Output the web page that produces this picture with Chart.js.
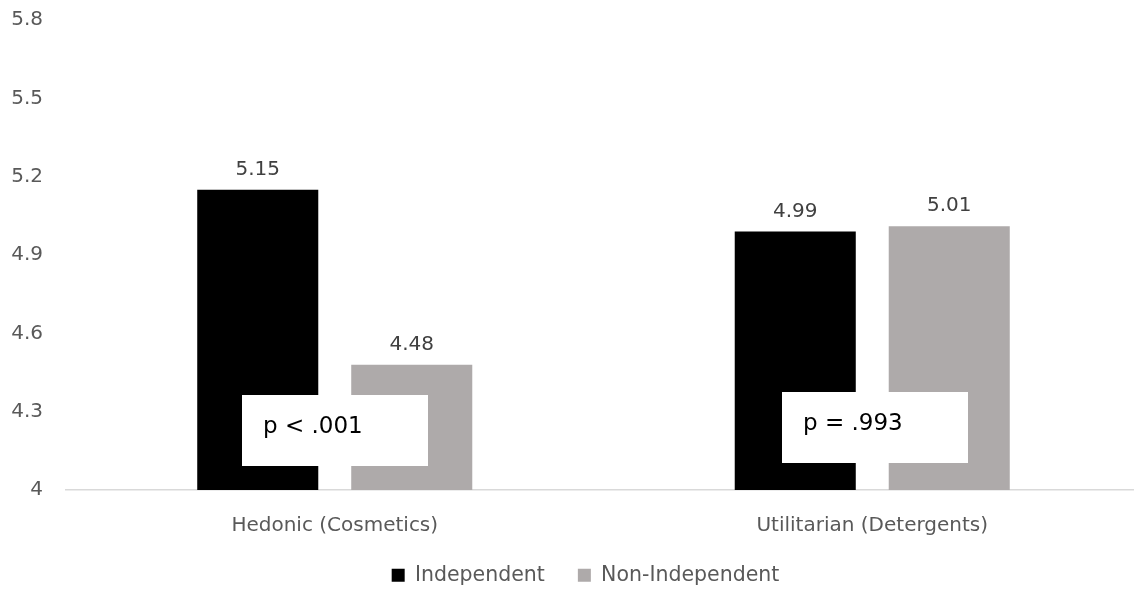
<!DOCTYPE html>
<html>
<head>
<meta charset="utf-8">
<script src="https://cdn.jsdelivr.net/npm/chart.js@4/dist/chart.umd.min.js"></script>
<style>
  html, body { margin: 0; padding: 0; background: #ffffff; overflow: hidden; width: 1134px; height: 592px; }
  #wrap { width: 1141px; height: 592px; position: relative; }
</style>
</head>
<body>
<div id="wrap"><canvas id="chart" width="1141" height="592"></canvas></div>
<script>
// Mean ratings by product type and self-construal condition
const categories = ['Hedonic (Cosmetics)', 'Utilitarian (Detergents)'];
const independent = [5.15, 4.99];
const nonIndependent = [4.48, 5.01];
const yTicks = [4, 4.3, 4.6, 4.9, 5.2, 5.5, 5.8];
const pLabels = ['p < .001', 'p = .993'];

const FONT = '"DejaVu Sans", Verdana, sans-serif';

// Values printed above each bar
const valueLabels = {
  id: 'valueLabels',
  afterDatasetsDraw(chart, args, opts) {
    const ctx = chart.ctx;
    ctx.save();
    ctx.font = opts.size + 'px ' + FONT;
    ctx.fillStyle = opts.color;
    ctx.textAlign = 'center';
    ctx.textBaseline = 'alphabetic';
    chart.data.datasets.forEach((ds, di) => {
      chart.getDatasetMeta(di).data.forEach((bar, i) => {
        ctx.fillText(ds.data[i].toFixed(2), bar.x, bar.y - opts.gap);
      });
    });
    ctx.restore();
  }
};

// White note boxes with the significance test per category
const pBoxes = {
  id: 'pBoxes',
  afterDatasetsDraw(chart, args, opts) {
    const { ctx, scales: { x, y } } = chart;
    ctx.save();
    pLabels.forEach((txt, i) => {
      const cx = x.getPixelForValue(i) + opts.dx[i];
      const cy = y.getPixelForValue(opts.yValue[i]);
      const left = Math.round(cx - opts.width / 2);
      const top = Math.round(cy - opts.height / 2);
      ctx.fillStyle = '#ffffff';
      ctx.fillRect(left, top, opts.width, opts.height);
      ctx.font = opts.size + 'px ' + FONT;
      ctx.fillStyle = '#000000';
      ctx.textAlign = 'left';
      ctx.textBaseline = 'alphabetic';
      ctx.fillText(txt, left + opts.padX, top + opts.baseline);
    });
    ctx.restore();
  }
};

// Nudge the legend block after layout (it sits a little right of centre and tucked up)
const legendOffset = {
  id: 'legendOffset',
  afterLayout(chart, args, opts) {
    const lg = chart.legend;
    if (!lg) return;
    lg.left += opts.dx; lg.right += opts.dx;
    lg.top += opts.dy; lg.bottom += opts.dy;
  }
};

new Chart(document.getElementById('chart'), {
  type: 'bar',
  data: {
    labels: categories,
    datasets: [
      { label: 'Independent', data: independent, backgroundColor: '#000000', borderWidth: 0 },
      { label: 'Non-Independent', data: nonIndependent, backgroundColor: '#AEAAAA', borderWidth: 0 }
    ]
  },
  options: {
    responsive: false,
    animation: false,
    devicePixelRatio: 1,
    categoryPercentage: 0.573,
    barPercentage: 0.786,
    layout: { padding: { top: 20, right: 0, bottom: -9.5, left: 0 } },
    scales: {
      x: {
        grid: { display: false, drawTicks: false },
        border: { display: true, color: '#D9D9D9', width: 1.5 },
        ticks: { color: '#595959', font: { family: FONT, size: 20 }, padding: 24 },
        afterFit(scale) { scale.height = 48; }
      },
      y: {
        min: 4,
        max: 5.8,
        grid: { display: false, drawTicks: false },
        border: { display: false },
        afterBuildTicks(scale) { scale.ticks = yTicks.map(v => ({ value: v })); },
        ticks: {
          color: '#595959',
          font: { family: FONT, size: 20 },
          padding: 23,
          callback: v => String(v)
        },
        afterFit(scale) {
          scale.width = 66;
          scale.paddingTop = 0;
          scale.paddingBottom = 0;
        }
      }
    },
    plugins: {
      legend: {
        position: 'bottom',
        labels: {
          color: '#595959',
          font: { family: FONT, size: 20.5 },
          boxWidth: 13,
          boxHeight: 13,
          padding: 33
        }
      },
      legendOffset: { dx: 15, dy: -6 },
      tooltip: { enabled: false },
      valueLabels: { size: 20, color: '#404040', gap: 15 },
      pBoxes: {
        dx: [0, 3],
        yValue: [4.228, 4.239],
        width: 186,
        height: 71,
        size: 23,
        padX: 21,
        baseline: 38
      }
    }
  },
  plugins: [valueLabels, pBoxes, legendOffset]
});
</script>
</body>
</html>
